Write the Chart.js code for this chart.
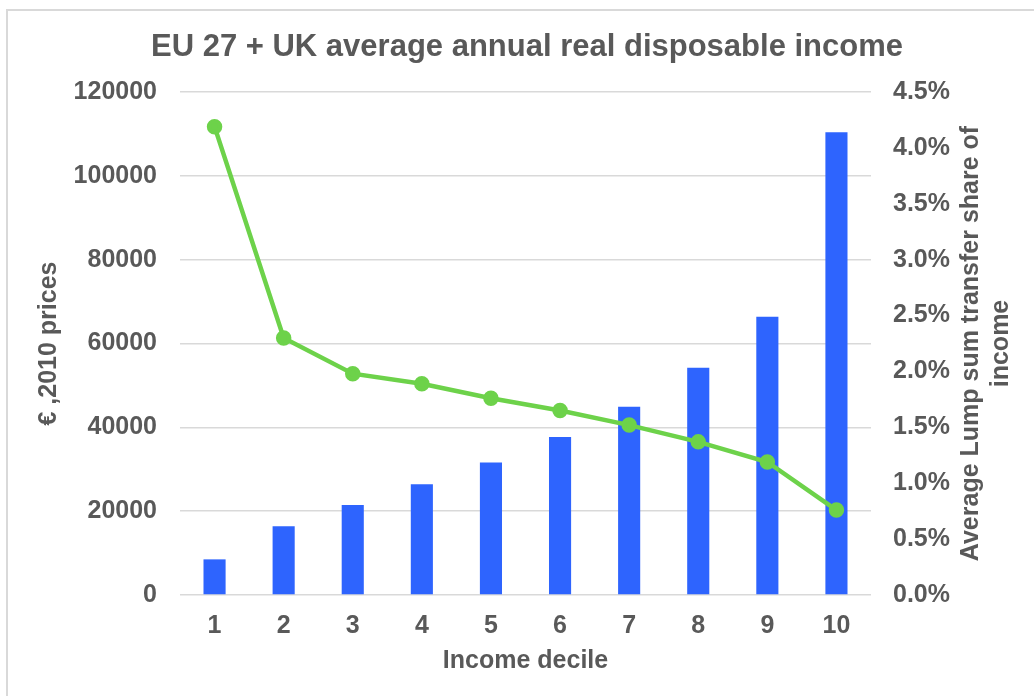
<!DOCTYPE html>
<html lang="en">
<head>
    <meta charset="UTF-8">
    <title>EU 27 + UK average annual real disposable income</title>
    <script src="https://cdn.jsdelivr.net/npm/chart.js"></script>
    <style>
        html, body { margin: 0; padding: 0; background: #fff; overflow: hidden; }
        #frame {
            position: absolute; left: 6px; top: 9px;
            width: 1100px; height: 800px;
            border: 2px solid #d9d9d9;
        }
        #incomeChart { position: absolute; left: 0; top: 0; }
    </style>
</head>
<body>
    <div id="frame"></div>
    <canvas id="incomeChart" width="1034" height="696"></canvas>

    <script>
        // Deciles and values
        const deciles = ['1', '2', '3', '4', '5', '6', '7', '8', '9', '10'];
        const income = [8500, 16400, 21500, 26400, 31600, 37700, 44900, 54200, 66400, 110400];
        const transferShare = [4.19, 2.30, 1.98, 1.89, 1.76, 1.65, 1.52, 1.37, 1.19, 0.76];

        const incomeTicks = { min: 0, max: 120000, step: 20000 };
        const shareTicks = { min: 0, max: 4.5, step: 0.5 };

        const titleText = 'EU 27 + UK average annual real disposable income';
        const leftTitle = '€ ,2010 prices';
        const rightTitle = ['Average Lump sum transfer share of', 'income'];
        const bottomTitle = 'Income decile';

        const grey = '#595959';
        const fontFamily = '"Liberation Sans", Arial, sans-serif';

        // right axis title reads bottom-to-top, so draw it by hand
        const rightTitlePlugin = {
            id: 'rightTitle',
            afterDraw(chart) {
                const ctx = chart.ctx;
                ctx.save();
                ctx.translate(971, (chart.chartArea.top + chart.chartArea.bottom) / 2);
                ctx.rotate(-Math.PI / 2);
                ctx.fillStyle = grey;
                ctx.font = 'bold 25px ' + fontFamily;
                ctx.textAlign = 'center';
                ctx.textBaseline = 'middle';
                rightTitle.forEach((line, i) => ctx.fillText(line, 0, i * 30));
                ctx.restore();
            }
        };

        const ctx = document.getElementById('incomeChart').getContext('2d');
        new Chart(ctx, {
            data: {
                labels: deciles,
                datasets: [
                    {
                        type: 'line',
                        label: 'Lump sum share',
                        data: transferShare,
                        yAxisID: 'y1',
                        borderColor: '#6DD24A',
                        backgroundColor: '#6DD24A',
                        borderWidth: 4.5,
                        pointRadius: 5.5,
                        pointHoverRadius: 5.5,
                        tension: 0,
                        order: 0
                    },
                    {
                        type: 'bar',
                        label: 'Income',
                        data: income,
                        yAxisID: 'y',
                        backgroundColor: '#2E64FE',
                        barPercentage: 0.32,
                        categoryPercentage: 1,
                        order: 1
                    }
                ]
            },
            options: {
                responsive: false,
                animation: false,
                layout: { padding: { left: 20, right: 0, top: 0, bottom: 0 } },
                plugins: {
                    legend: { display: false },
                    tooltip: { enabled: false },
                    title: {
                        display: true,
                        text: titleText,
                        color: grey,
                        font: { family: fontFamily, size: 31, weight: 'bold', lineHeight: 1.2 },
                        padding: { top: 29, bottom: 25.8 }
                    }
                },
                scales: {
                    x: {
                        grid: { display: false, drawTicks: false },
                        border: { display: false },
                        ticks: {
                            color: grey,
                            padding: 16,
                            font: { family: fontFamily, size: 25, weight: 'bold' }
                        },
                        title: {
                            display: true,
                            text: bottomTitle,
                            color: grey,
                            font: { family: fontFamily, size: 25, weight: 'bold', lineHeight: 1.2 },
                            padding: { top: 0, bottom: 20 }
                        },
                        afterFit(scale) { scale.height = 101; }
                    },
                    y: {
                        position: 'left',
                        min: incomeTicks.min,
                        max: incomeTicks.max,
                        grid: { color: '#d9d9d9', lineWidth: 1.5, drawTicks: false },
                        border: { display: false },
                        ticks: {
                            stepSize: incomeTicks.step,
                            color: grey,
                            padding: 23,
                            font: { family: fontFamily, size: 25, weight: 'bold' },
                            callback: v => String(v)
                        },
                        title: {
                            display: true,
                            text: leftTitle,
                            color: grey,
                            font: { family: fontFamily, size: 25, weight: 'bold', lineHeight: 1.2 },
                            padding: { top: 14, bottom: 0 }
                        },
                        afterFit(scale) { scale.width = 160; }
                    },
                    y1: {
                        position: 'right',
                        min: shareTicks.min,
                        max: shareTicks.max,
                        grid: { drawOnChartArea: false, drawTicks: false },
                        border: { display: false },
                        ticks: {
                            stepSize: shareTicks.step,
                            color: grey,
                            padding: 22,
                            font: { family: fontFamily, size: 25, weight: 'bold' },
                            callback: v => v.toFixed(1) + '%'
                        },
                        afterFit(scale) { scale.width = 163; }
                    }
                }
            },
            plugins: [rightTitlePlugin]
        });
    </script>
</body>
</html>
